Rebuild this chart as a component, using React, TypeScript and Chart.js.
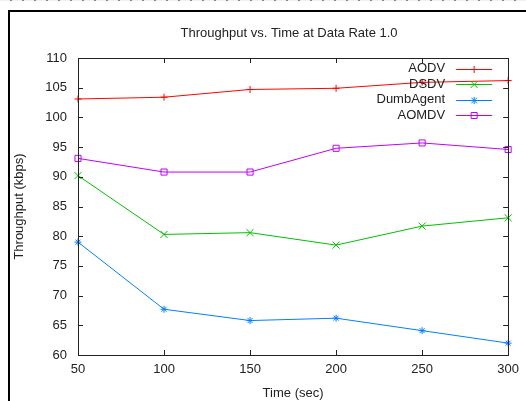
import React, { useEffect, useRef } from 'react';
import { Chart, registerables } from 'chart.js';

Chart.register(...registerables);

const times = [50, 100, 150, 200, 250, 300];
const aodv = [103.1, 103.4, 104.7, 104.9, 105.9, 106.2];
const dsdv = [90.2, 80.3, 80.6, 78.5, 81.7, 83.1];
const dumbAgent = [79.0, 67.7, 65.8, 66.2, 64.1, 62.0];
const aomdv = [93.1, 90.8, 90.8, 94.8, 95.7, 94.6];

const seriesNames = ['AODV', 'DSDV', 'DumbAgent', 'AOMDV'];
const seriesColors = ['#ff0000', '#00c000', '#0080ff', '#c000ff'];
const seriesMarkers = ['cross', 'crossRot', 'star', 'rect'];
const xTicks = [50, 100, 150, 200, 250, 300];
const yTicks = [60, 65, 70, 75, 80, 85, 90, 95, 100, 105, 110];

const chartTitle = 'Throughput vs. Time at Data Rate 1.0';
const xTitle = 'Time (sec)';
const yTitle = 'Throughput (kbps)';

const FONT = '"Liberation Sans", Arial, sans-serif';
const TEXT = '#222';

function drawMarker(ctx: CanvasRenderingContext2D, kind: string, x: number, y: number, color: string) {
  ctx.save();
  ctx.strokeStyle = color;
  ctx.lineWidth = 1;
  ctx.beginPath();
  const r = 3.5;
  if (kind === 'cross' || kind === 'star') {
    ctx.moveTo(x - r, y);
    ctx.lineTo(x + r, y);
    ctx.moveTo(x, y - r);
    ctx.lineTo(x, y + r);
  }
  if (kind === 'crossRot' || kind === 'star') {
    const d = kind === 'star' ? 2.8 : 3.5;
    ctx.moveTo(x - d, y - d);
    ctx.lineTo(x + d, y + d);
    ctx.moveTo(x - d, y + d);
    ctx.lineTo(x + d, y - d);
  }
  if (kind === 'rect') {
    ctx.rect(x - 3, y - 3, 6, 6);
  }
  ctx.stroke();
  ctx.restore();
}

const decorPlugin = {
  id: 'decor',
  afterDraw(chart: any) {
    const ctx: CanvasRenderingContext2D = chart.ctx;
    const { left, right, top, bottom } = chart.chartArea;
    const xs = chart.scales.x;
    const ys = chart.scales.y;
    ctx.save();
    // plot box
    ctx.strokeStyle = '#222';
    ctx.lineWidth = 1;
    ctx.strokeRect(Math.round(left) + 0.5, Math.round(top) + 0.5, Math.round(right - left), Math.round(bottom - top));
    // inward ticks
    ctx.beginPath();
    const tl = 5;
    xTicks.forEach((v) => {
      const px = Math.round(xs.getPixelForValue(v)) + 0.5;
      ctx.moveTo(px, bottom);
      ctx.lineTo(px, bottom - tl);
      ctx.moveTo(px, top);
      ctx.lineTo(px, top + tl);
    });
    yTicks.forEach((v) => {
      const py = Math.round(ys.getPixelForValue(v)) + 0.5;
      ctx.moveTo(left, py);
      ctx.lineTo(left + tl, py);
      ctx.moveTo(right, py);
      ctx.lineTo(right - tl, py);
    });
    ctx.stroke();
    // title
    ctx.fillStyle = TEXT;
    ctx.font = `13px ${FONT}`;
    ctx.textAlign = 'center';
    ctx.textBaseline = 'middle';
    ctx.fillText(chartTitle, (left + right) / 2 - 4, 33);
    // legend
    ctx.textAlign = 'right';
    seriesNames.forEach((name, i) => {
      const y = top + 10.5 + i * 15.6;
      ctx.fillStyle = TEXT;
      ctx.fillText(name, right - 63, y);
      ctx.strokeStyle = seriesColors[i];
      ctx.lineWidth = 1;
      ctx.beginPath();
      const yy = Math.round(y) + 0.5;
      ctx.moveTo(right - 52, yy);
      ctx.lineTo(right - 16, yy);
      ctx.stroke();
      drawMarker(ctx, seriesMarkers[i], right - 34, yy, seriesColors[i]);
    });
    ctx.restore();
  },
};

export default function App() {
  const ref = useRef<HTMLCanvasElement | null>(null);
  useEffect(() => {
    if (!ref.current) return;
    const all = [aodv, dsdv, dumbAgent, aomdv];
    const datasets = all.map((vals, i) => ({
      label: seriesNames[i],
      data: times.map((t, j) => ({ x: t, y: vals[j] })),
      borderColor: seriesColors[i],
      backgroundColor: 'rgba(0,0,0,0)',
      pointBorderColor: seriesColors[i],
      pointBackgroundColor: 'rgba(0,0,0,0)',
      pointStyle: seriesMarkers[i],
      pointRadius: seriesMarkers[i] === 'rect' ? 4.3 : seriesMarkers[i] === 'crossRot' ? 5 : 3.5,
      pointBorderWidth: 1,
      borderWidth: 1,
      tension: 0,
      fill: false,
      clip: false as any,
      order: 4 - i,
    }));
    const chart = new Chart(ref.current, {
      type: 'line',
      data: { datasets },
      options: {
        animation: false,
        responsive: false,
        devicePixelRatio: 1,
        events: [],
        layout: { padding: { left: 10, top: 58, right: 16, bottom: 0 } },
        plugins: { legend: { display: false }, title: { display: false }, tooltip: { enabled: false } },
        scales: {
          x: {
            type: 'linear',
            min: 50,
            max: 300,
            afterFit: (s: any) => { s.height = 46; },
            afterBuildTicks: (s: any) => { s.ticks = xTicks.map((v) => ({ value: v })); },
            grid: { display: false, drawTicks: false, tickLength: 0 },
            border: { display: false },
            ticks: { padding: 7, color: TEXT, font: { family: FONT, size: 13 }, maxRotation: 0 },
            title: { display: true, text: xTitle, color: TEXT, font: { family: FONT, size: 13 }, padding: { top: 0, bottom: 0 } },
          },
          y: {
            type: 'linear',
            min: 60,
            max: 110,
            afterFit: (s: any) => { s.width = 68; },
            afterBuildTicks: (s: any) => { s.ticks = yTicks.map((v) => ({ value: v })); },
            grid: { display: false, drawTicks: false, tickLength: 0 },
            border: { display: false },
            ticks: { padding: 11, color: TEXT, font: { family: FONT, size: 13 } },
            title: { display: true, text: yTitle, color: TEXT, font: { family: FONT, size: 13 }, padding: { top: 2, bottom: 0 } },
          },
        },
      },
      plugins: [decorPlugin],
    });
    return () => chart.destroy();
  }, []);

  return (
    <div style={{ position: 'fixed', left: 0, top: 0, width: 526, height: 401, background: '#fff', overflow: 'hidden' }}>
      <div
        style={{
          position: 'absolute', left: 0, top: 0, width: 526, height: 1,
          background: 'repeating-linear-gradient(to right, #f0f0f0 0px, #f0f0f0 10px, #888 10px, #888 12px)',
        }}
      />
      <div
        style={{
          position: 'absolute', left: 8, top: 10, width: 600, height: 500,
          borderLeft: '2px solid #000', borderTop: '2px solid #000',
        }}
      />
      <canvas ref={ref} width={526} height={401} style={{ position: 'absolute', left: 0, top: 0, width: 526, height: 401 }} />
    </div>
  );
}
